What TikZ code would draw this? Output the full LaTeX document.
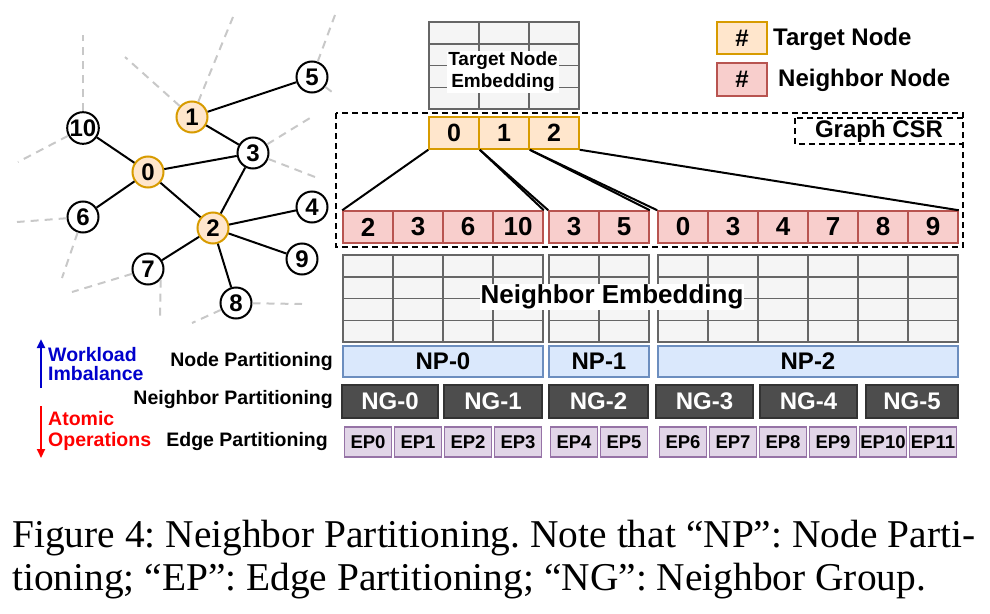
\documentclass[tikz,border=0pt]{standalone}
\usepackage{fontspec}
\setmainfont{Liberation Serif}
\newfontfamily\arialf{Liberation Sans}
\usetikzlibrary{arrows.meta}
\definecolor{tfill}{HTML}{FFE6CC}
\definecolor{tdraw}{HTML}{D79B00}
\definecolor{nfill}{HTML}{F8CECC}
\definecolor{ndraw}{HTML}{B85450}
\definecolor{gfill}{HTML}{F5F5F5}
\definecolor{gdraw}{HTML}{666666}
\definecolor{npfill}{HTML}{DAE8FC}
\definecolor{npdraw}{HTML}{6C8EBF}
\definecolor{ngfill}{HTML}{4D4D4D}
\definecolor{ngdraw}{HTML}{333333}
\definecolor{epfill}{HTML}{E1D5E7}
\definecolor{epdraw}{HTML}{9673A6}
\definecolor{ghostc}{HTML}{C8C8C8}
\definecolor{wblue}{HTML}{0000CC}
\definecolor{ared}{HTML}{FF0000}
\newcommand{\fs}[1]{\arialf\bfseries\fontsize{#1}{#1}\selectfont}
\frenchspacing
\begin{document}
\begin{tikzpicture}[x=1pt,y=-1pt,
  gnode/.style={circle,draw=black,line width=2pt,fill=white,minimum size=31pt,inner sep=0pt,font=\fs{24}},
  tgnode/.style={gnode,fill=tfill,draw=tdraw},
  gedge/.style={line width=2pt,black},
  ghost/.style={ghostc,line width=2pt,dash pattern=on 8pt off 6pt},
  cellbase/.style={rectangle,minimum width=50pt,minimum height=32pt,inner sep=0pt,line width=1.5pt},
  tcell/.style={cellbase,fill=tfill,draw=tdraw,font=\fs{25}},
  ncell/.style={cellbase,fill=nfill,draw=ndraw,font=\fs{26}},
  gridbox/.style={fill=gfill,draw=gdraw,line width=1.5pt},
  gridline/.style={draw=gdraw,line width=1.5pt},
  npbox/.style={rectangle,fill=npfill,draw=npdraw,line width=1.5pt,minimum height=31pt,inner sep=0pt,font=\fs{24}},
  ngbox/.style={rectangle,fill=ngfill,draw=ngdraw,line width=1.5pt,minimum height=33pt,inner sep=0pt,text=white,font=\fs{24}},
  epbox/.style={rectangle,fill=epfill,draw=epdraw,line width=1.5pt,minimum height=30pt,minimum width=47pt,inner sep=0pt,font=\fs{18.5}},
  sidelabel/.style={anchor=east,inner sep=0pt,font=\fs{19.5}},
  csrbox/.style={draw=black,line width=2pt,dash pattern=on 6pt off 4pt},
  labelbg/.style={fill=white,inner sep=1pt,align=center}
]
\useasboundingbox (0,0) rectangle (990,613);

% ---------------- graph ----------------
\node[gnode]  (n5)  at (312,77)  {5};
\node[tgnode] (n1)  at (192,117) {1};
\node[gnode]  (n10) at (83,128)  {10};
\node[gnode]  (n3)  at (253,153) {3};
\node[tgnode] (n0)  at (148,172) {0};
\node[gnode]  (n6)  at (83,217)  {6};
\node[gnode]  (n4)  at (312,207) {4};
\node[tgnode] (n2)  at (213,228) {2};
\node[gnode]  (n9)  at (302,259) {9};
\node[gnode]  (n7)  at (148,269) {7};
\node[gnode]  (n8)  at (236,303) {8};

\coordinate (g10a) at (83,35);
\coordinate (g10b) at (18,162);
\coordinate (g1a) at (233,17);
\coordinate (g1b) at (125,57);
\coordinate (g5a) at (335,15);
\coordinate (g5b) at (336,95);
\coordinate (g3a) at (310,118);
\coordinate (g3b) at (315,177);
\coordinate (g6a) at (17,222);
\coordinate (g6b) at (62,278);
\coordinate (g7a) at (72,292);
\coordinate (g7b) at (160,317);
\coordinate (g8a) at (192,323);
\coordinate (g8b) at (302,304);

\draw[ghost] (n10) -- (g10a);
\draw[ghost] (n10) -- (g10b);
\draw[ghost] (n1) -- (g1a);
\draw[ghost] (n1) -- (g1b);
\draw[ghost] (n5) -- (g5a);
\draw[ghost] (n5) -- (g5b);
\draw[ghost] (n3) -- (g3a);
\draw[ghost] (n3) -- (g3b);
\draw[ghost] (n6) -- (g6a);
\draw[ghost] (n6) -- (g6b);
\draw[ghost] (n7) -- (g7a);
\draw[ghost] (n7.-40) -- (g7b);
\draw[ghost] (n8) -- (g8a);
\draw[ghost] (n8) -- (g8b);

\draw[gedge] (n1) -- (n5);
\draw[gedge] (n1) -- (n3);
\draw[gedge] (n0) -- (n10);
\draw[gedge] (n0) -- (n3);
\draw[gedge] (n0) -- (n6);
\draw[gedge] (n0) -- (n2);
\draw[gedge] (n2) -- (n3);
\draw[gedge] (n2) -- (n4);
\draw[gedge] (n2) -- (n9);
\draw[gedge] (n2) -- (n7);
\draw[gedge] (n2) -- (n8);

% ---------------- target node embedding ----------------
\draw[gridbox] (429,22) rectangle (579,109);
\foreach \xx in {479,529} \draw[gridline] (\xx,22) -- (\xx,109);
\foreach \yy in {43.75,65.5,87.25} \draw[gridline] (429,\yy) -- (579,\yy);
\node[labelbg,font=\arialf\bfseries\fontsize{19}{22}\selectfont] (tne) at (503,72) {Target Node\\Embedding};

% ---------------- legend ----------------
\node[tcell,font=\fs{24}] (legt) at (742,38) {\#};
\node[ncell,minimum height=33pt,font=\fs{24}] (legn) at (742,79.5) {\#};
\node[anchor=west,inner sep=0pt,font=\fs{24}] (legtl) at (773,39) {Target Node};
\node[anchor=west,inner sep=0pt,font=\fs{24}] (legnl) at (778,80) {Neighbor Node};

% ---------------- CSR ----------------
\draw[csrbox] (336,113) rectangle (963,247);
\draw[csrbox] (795,118) rectangle (963,144);
\node[inner sep=0pt,font=\fs{24}] (csrl) at (879,131.5) {Graph CSR};

\node[tcell] (t0) at (454,133) {0};
\node[tcell] (t1) at (504,133) {1};
\node[tcell] (t2) at (554,133) {2};

\node[ncell] (a0) at (368,227) {2};
\node[ncell] (a1) at (418,227) {3};
\node[ncell] (a2) at (468,227) {6};
\node[ncell] (a3) at (518,227) {10};
\node[ncell] (b0) at (574,227) {3};
\node[ncell] (b1) at (624,227) {5};
\node[ncell] (c0) at (683,227) {0};
\node[ncell] (c1) at (733,227) {3};
\node[ncell] (c2) at (783,227) {4};
\node[ncell] (c3) at (833,227) {7};
\node[ncell] (c4) at (883,227) {8};
\node[ncell] (c5) at (933,227) {9};

\draw[gedge] (t0.south west) -- (a0.north west);
\draw[gedge] (t0.south east) -- (a3.north east);
\draw[gedge] (t0.south east) -- (b0.north west);
\draw[gedge] (t1.south east) -- (b1.north east);
\draw[gedge] (t1.south east) -- (c0.north west);
\draw[gedge] (t2.south east) -- (c5.north east);

% ---------------- neighbor embedding ----------------
\foreach \xa/\xb in {343/543,549/649,658/958} {
  \draw[gridbox] (\xa,255) rectangle (\xb,342);
  \foreach \yy in {276.75,298.5,320.25} \draw[gridline] (\xa,\yy) -- (\xb,\yy);
}
\foreach \xx in {393,443,493,599,708,758,808,858,908} \draw[gridline] (\xx,255) -- (\xx,342);
\node[labelbg,font=\fs{26}] (nel) at (612,297) {Neighbor Embedding};

% ---------------- partitions ----------------
\node[npbox,minimum width=200pt] (np0) at (443,361.5) {NP-0};
\node[npbox,minimum width=100pt] (np1) at (599,361.5) {NP-1};
\node[npbox,minimum width=300pt] (np2) at (808,361.5) {NP-2};

\node[ngbox,minimum width=96pt] (ng0) at (390,401.5) {NG-0};
\node[ngbox,minimum width=98pt] (ng1) at (493,401.5) {NG-1};
\node[ngbox,minimum width=99pt] (ng2) at (598.5,401.5) {NG-2};
\node[ngbox,minimum width=97pt] (ng3) at (704.5,401.5) {NG-3};
\node[ngbox,minimum width=97pt] (ng4) at (808.5,401.5) {NG-4};
\node[ngbox,minimum width=92pt] (ng5) at (912,401.5) {NG-5};

\foreach \nm/\cx [count=\i from 0] in {e0/368,e1/418,e2/468,e3/518,e4/574,e5/624,e6/683,e7/733,e8/783,e9/833,e10/883,e11/933}
  \node[epbox] (\nm) at (\cx,442) {EP\i};

% ---------------- side labels ----------------
\node[sidelabel] (lnp) at (333,361) {Node Partitioning};
\node[sidelabel] (lng) at (333,399) {Neighbor Partitioning};
\node[sidelabel] (lep) at (328,441) {Edge Partitioning};

\node[anchor=west,inner sep=0pt,text=wblue,font=\fs{19.5}] (wl1) at (48,355) {Workload};
\node[anchor=west,inner sep=0pt,text=wblue,font=\fs{19.5}] (wl2) at (48,374) {Imbalance};
\node[anchor=west,inner sep=0pt,text=ared,font=\fs{19.5}] (ao1) at (48,419) {Atomic};
\node[anchor=west,inner sep=0pt,text=ared,font=\fs{19.5}] (ao2) at (48,441) {Operations};
\coordinate (bu0) at (41,388);
\coordinate (bu1) at (41,339);
\coordinate (rd0) at (41,406);
\coordinate (rd1) at (41,458);
\draw[wblue,line width=2.5pt,-{Triangle[length=9pt,width=8pt]}] (bu0) -- (bu1);
\draw[ared,line width=2.5pt,-{Triangle[length=9pt,width=8pt]}] (rd0) -- (rd1);

% ---------------- caption ----------------
\node[anchor=base west,inner sep=0pt,font=\fontsize{39.4}{43}\selectfont] (cap1) at (12,547)
  {\makebox[963pt][s]{Figure 4: Neighbor Partitioning. Note that “NP”: Node Parti-}};
\node[anchor=base west,inner sep=0pt,font=\fontsize{39.4}{43}\selectfont] (cap2) at (12,590)
  {tioning; “EP”: Edge Partitioning; “NG”: Neighbor Group.};
\end{tikzpicture}
\end{document}
